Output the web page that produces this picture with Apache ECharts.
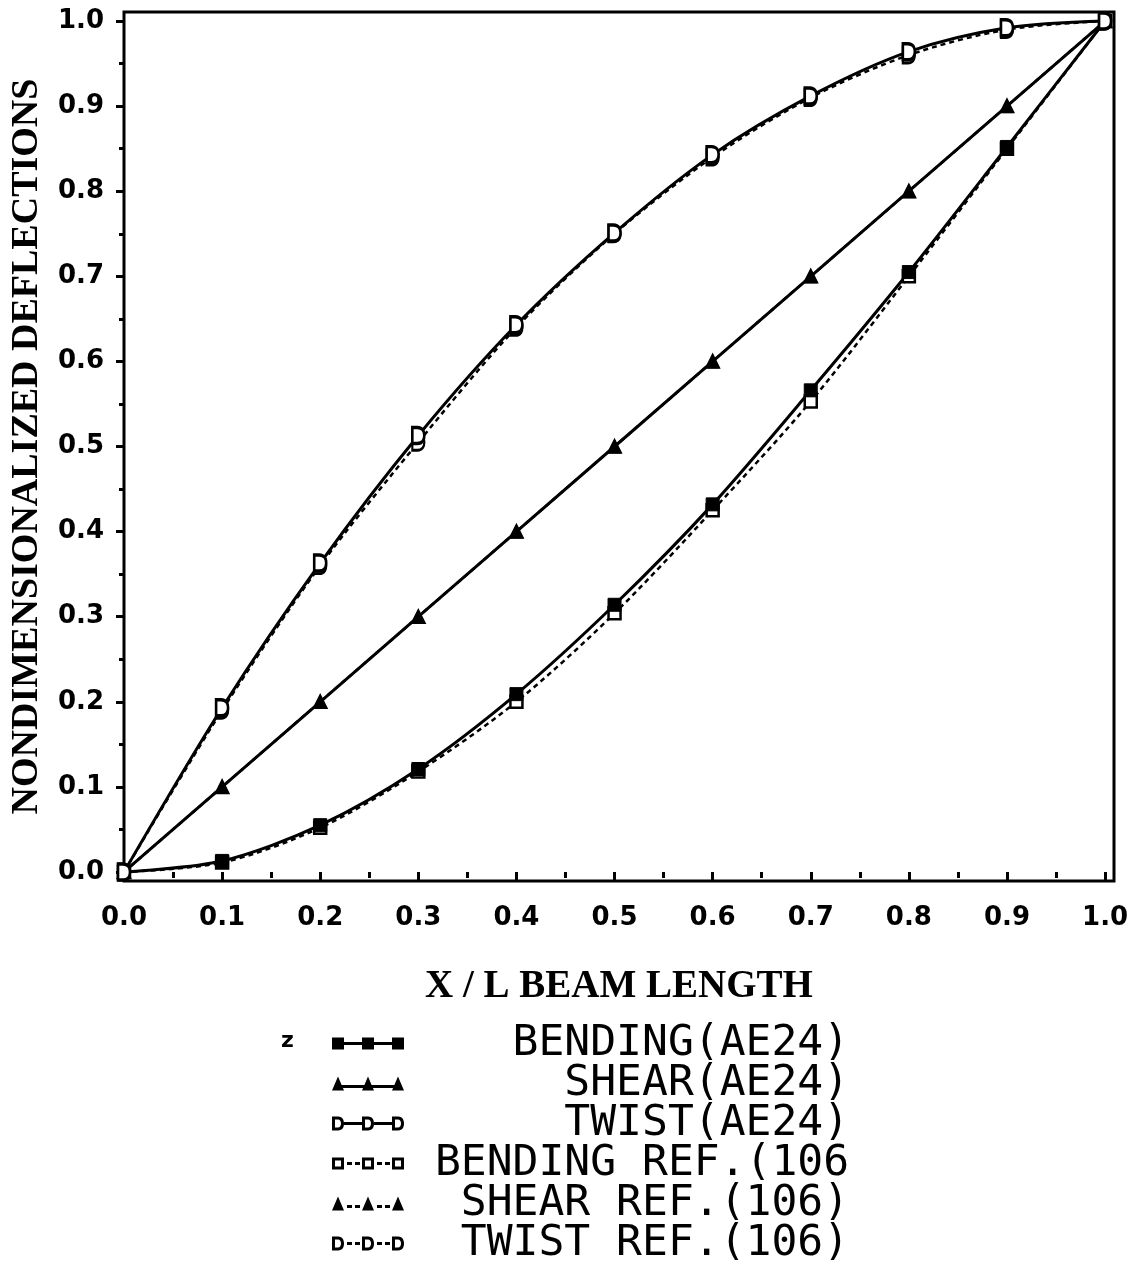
<!DOCTYPE html>
<html>
<head>
<meta charset="utf-8">
<script src="https://cdn.jsdelivr.net/npm/echarts@6/dist/echarts.min.js"></script>
<style>
  html, body { margin: 0; padding: 0; background: #fff; }
  #chart { width: 1139px; height: 1266px; }
</style>
</head>
<body>
<div id="chart"></div>
<script>
// x / L stations along the beam
const xValues = [0, 0.1, 0.2, 0.3, 0.4, 0.5, 0.6, 0.7, 0.8, 0.9, 1.0];

// deflections
const bendingAE24 = [0, 0.013, 0.055, 0.121, 0.209, 0.314, 0.432, 0.566, 0.705, 0.852, 1.0];
const shearAE24 = [0, 0.1, 0.2, 0.3, 0.4, 0.5, 0.6, 0.7, 0.8, 0.9, 1.0];
const twistAE24 = [0, 0.193, 0.363, 0.513, 0.643, 0.751, 0.843, 0.912, 0.964, 0.992, 1.0];
const bendingRef = [0, 0.011, 0.052, 0.118, 0.2, 0.304, 0.425, 0.553, 0.7, 0.85, 1.0];
const shearRef = [0, 0.1, 0.2, 0.3, 0.4, 0.5, 0.6, 0.7, 0.8, 0.9, 1.0];
const twistRef = [0, 0.19, 0.36, 0.505, 0.64, 0.75, 0.84, 0.91, 0.96, 0.99, 1.0];

const majorTicks = [0, 0.1, 0.2, 0.3, 0.4, 0.5, 0.6, 0.7, 0.8, 0.9, 1.0];
const minorTicks = [0.05, 0.15, 0.25, 0.35, 0.45, 0.55, 0.65, 0.75, 0.85, 0.95];

const names = [
  "BENDING(AE24)",
  "SHEAR(AE24)",
  "TWIST(AE24)",
  "BENDING REF.(106",
  "SHEAR REF.(106)",
  "TWIST REF.(106)",
];

// marker shapes
const dShape = "path://M0,0 L5,0 C11,0 12,5 12,8 C12,11 11,16 5,16 L0,16 Z";

// legend icons: three markers joined by a line (solid or dashed)
const iconBendingSolid = "path://M0,1 L12,1 L12,13 L0,13 Z M12,5.5 L30,5.5 L30,8.5 L12,8.5 Z M30,1 L42,1 L42,13 L30,13 Z M42,5.5 L60,5.5 L60,8.5 L42,8.5 Z M60,1 L72,1 L72,13 L60,13 Z";
const iconShearSolid = "path://M6,0 L12,14 L0,14 Z M9,8.5 L33,8.5 L33,11.5 L9,11.5 Z M36,0 L42,14 L30,14 Z M39,8.5 L63,8.5 L63,11.5 L39,11.5 Z M66,0 L72,14 L60,14 Z";
const iconTwistSolid = "path://M0,0 L6,0 C11,0 12,4 12,7 C12,10 11,14 6,14 L0,14 Z M3,3 L3,11 L6,11 C8,11 9,9 9,7 C9,5 8,3 6,3 Z M12,5.5 L30,5.5 L30,8.5 L12,8.5 Z M30,0 L36,0 C41,0 42,4 42,7 C42,10 41,14 36,14 L30,14 Z M33,3 L33,11 L36,11 C38,11 39,9 39,7 C39,5 38,3 36,3 Z M42,5.5 L60,5.5 L60,8.5 L42,8.5 Z M60,0 L66,0 C71,0 72,4 72,7 C72,10 71,14 66,14 L60,14 Z M63,3 L63,11 L66,11 C68,11 69,9 69,7 C69,5 68,3 66,3 Z";
const iconBendingDash = "path://M0,1 L12,1 L12,13 L0,13 Z M3,4 L3,10 L9,10 L9,4 Z M15,5.5 L20,5.5 L20,8.5 L15,8.5 Z M23,5.5 L28,5.5 L28,8.5 L23,8.5 Z M30,1 L42,1 L42,13 L30,13 Z M33,4 L33,10 L39,10 L39,4 Z M45,5.5 L50,5.5 L50,8.5 L45,8.5 Z M53,5.5 L58,5.5 L58,8.5 L53,8.5 Z M60,1 L72,1 L72,13 L60,13 Z M63,4 L63,10 L69,10 L69,4 Z";
const iconShearDash = "path://M6,0 L12,14 L0,14 Z M15,8.5 L20,8.5 L20,11.5 L15,11.5 Z M23,8.5 L28,8.5 L28,11.5 L23,11.5 Z M36,0 L42,14 L30,14 Z M45,8.5 L50,8.5 L50,11.5 L45,11.5 Z M53,8.5 L58,8.5 L58,11.5 L53,11.5 Z M66,0 L72,14 L60,14 Z";
const iconTwistDash = "path://M0,0 L6,0 C11,0 12,4 12,7 C12,10 11,14 6,14 L0,14 Z M3,3 L3,11 L6,11 C8,11 9,9 9,7 C9,5 8,3 6,3 Z M15,5.5 L20,5.5 L20,8.5 L15,8.5 Z M23,5.5 L28,5.5 L28,8.5 L23,8.5 Z M30,0 L36,0 C41,0 42,4 42,7 C42,10 41,14 36,14 L30,14 Z M33,3 L33,11 L36,11 C38,11 39,9 39,7 C39,5 38,3 36,3 Z M45,5.5 L50,5.5 L50,8.5 L45,8.5 Z M53,5.5 L58,5.5 L58,8.5 L53,8.5 Z M60,0 L66,0 C71,0 72,4 72,7 C72,10 71,14 66,14 L60,14 Z M63,3 L63,11 L66,11 C68,11 69,9 69,7 C69,5 68,3 66,3 Z";

const pairs = (ys) => xValues.map((x, i) => [x, ys[i]]);

const chart = echarts.init(document.getElementById("chart"));

const tickFont = { fontFamily: "DejaVu Sans", fontWeight: "bold", fontSize: 26, color: "#000" };
const titleFont = { fontFamily: "Liberation Serif", fontWeight: "bold", fontSize: 39, color: "#000" };

function refSeries(name, ys, symbol, size, smooth) {
  return {
    name,
    type: "line",
    data: pairs(ys),
    smooth,
    symbol,
    symbolSize: size,
    showAllSymbol: true,
    lineStyle: { color: "#000", width: 2.5, type: [5, 4] },
    itemStyle: { color: "#fff", borderColor: "#000", borderWidth: 2.5 },
  };
}

function aeSeries(name, ys, symbol, size, smooth, open) {
  return {
    name,
    type: "line",
    data: pairs(ys),
    smooth,
    symbol,
    symbolSize: size,
    showAllSymbol: true,
    lineStyle: { color: "#000", width: 3 },
    itemStyle: open
      ? { color: "#fff", borderColor: "#000", borderWidth: 3 }
      : { color: "#000", borderColor: "#000", borderWidth: 1 },
  };
}

const option = {
  animation: false,
  backgroundColor: "#fff",
  grid: {
    left: 120,
    top: 12,
    right: 25,
    bottom: 385,
    show: true,
    borderColor: "#000",
    borderWidth: 3,
    backgroundColor: "transparent",
  },
  xAxis: [
    {
      type: "value",
      min: 0,
      max: 1.0091,
      position: "bottom",
      name: "X / L BEAM LENGTH",
      nameLocation: "middle",
      nameGap: 86,
      nameTextStyle: titleFont,
      axisLine: { show: false },
      splitLine: { show: false },
      axisTick: { show: true, customValues: majorTicks, length: 10, lineStyle: { color: "#000", width: 3 } },
      axisLabel: { customValues: majorTicks, margin: 24, formatter: (v) => v.toFixed(1), ...tickFont },
    },
    {
      type: "value",
      min: 0,
      max: 1.0091,
      position: "bottom",
      axisLine: { show: false },
      splitLine: { show: false },
      axisLabel: { show: false },
      axisTick: { show: true, customValues: minorTicks, length: 6, lineStyle: { color: "#000", width: 3 } },
    },
  ],
  yAxis: [
    {
      type: "value",
      min: -0.0106,
      max: 1.0106,
      position: "left",
      name: "NONDIMENSIONALIZED DEFLECTIONS",
      nameLocation: "middle",
      nameGap: 78,
      nameTextStyle: { ...titleFont, fontSize: 38 },
      axisLine: { show: false },
      splitLine: { show: false },
      axisTick: { show: true, customValues: majorTicks, length: 8, lineStyle: { color: "#000", width: 3 } },
      axisLabel: { customValues: majorTicks, margin: 20, formatter: (v) => v.toFixed(1), ...tickFont },
    },
    {
      type: "value",
      min: -0.0106,
      max: 1.0106,
      position: "left",
      axisLine: { show: false },
      splitLine: { show: false },
      axisLabel: { show: false },
      axisTick: { show: true, customValues: minorTicks, length: 5, lineStyle: { color: "#000", width: 3 } },
    },
  ],
  legend: {
    orient: "vertical",
    left: 332,
    top: 1022,
    padding: 0,
    itemWidth: 72,
    itemHeight: 14,
    itemGap: -3,
    selectedMode: false,
    itemStyle: { color: "#000", borderColor: "#000", borderWidth: 0 },
    formatter: (name) => name.padStart(17, " "),
    textStyle: { fontFamily: "DejaVu Sans Mono", fontSize: 43, lineHeight: 40, color: "#000" },
    data: [
      { name: names[0], icon: iconBendingSolid },
      { name: names[1], icon: iconShearSolid },
      { name: names[2], icon: iconTwistSolid },
      { name: names[3], icon: iconBendingDash },
      { name: names[4], icon: iconShearDash },
      { name: names[5], icon: iconTwistDash },
    ],
  },
  graphic: [
    {
      type: "text",
      left: 281,
      top: 1030,
      style: { text: "z", font: "bold 22px DejaVu Sans", fill: "#000" },
    },
  ],
  series: [
    // reference curves first so the AE24 ones sit on top
    refSeries(names[3], bendingRef, "rect", 12, 0.3),
    refSeries(names[4], shearRef, "triangle", 12, false),
    refSeries(names[5], twistRef, dShape, [12, 16], 0.3),
    aeSeries(names[0], bendingAE24, "rect", 13, 0.3, false),
    aeSeries(names[1], shearAE24, "triangle", 13, false, false),
    aeSeries(names[2], twistAE24, dShape, [12, 16], 0.3, true),
  ],
};

chart.setOption(option);
</script>
</body>
</html>
